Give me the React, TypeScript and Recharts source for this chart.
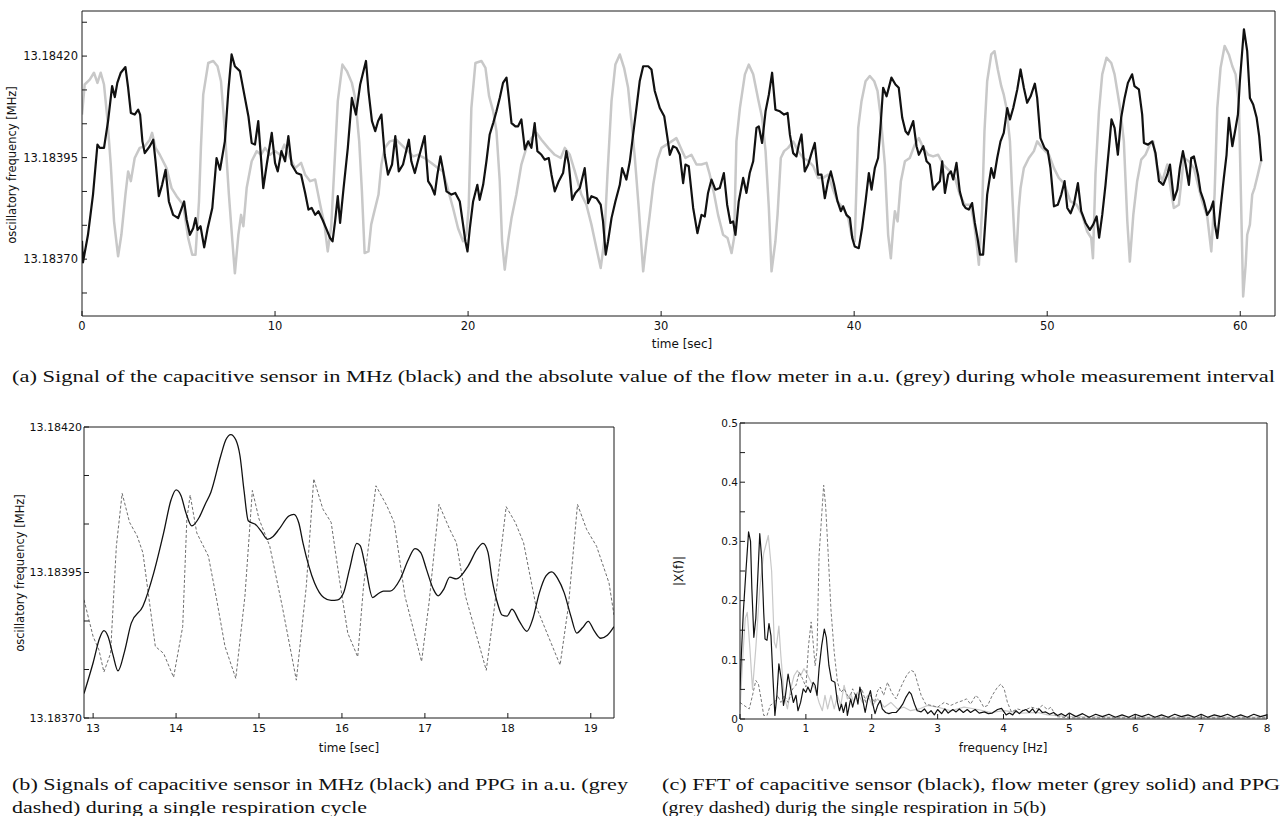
import React from 'react';
import { LineChart, Line, XAxis, YAxis } from 'recharts';

// Frequencies are stored as offset in Hz above 13.18370 MHz
const BASE_MHZ = 13.1837;

// ---------- (a) whole measurement interval ----------
const capacitiveFull: [number, number][] = [
  [0,45],[0.05,-8],[0.31,60],[0.57,159],[0.80,282],[0.92,274],[1.14,274],[1.35,340],[1.56,426],[1.70,399],[1.83,434],[2.01,459],[2.25,473],[2.39,422],[2.53,360],[2.73,356],[2.91,368],[3.01,356],[3.13,290],[3.25,261],[3.51,278],[3.69,294],[3.81,241],[3.98,155],[4.15,183],[4.33,220],[4.50,142],[4.72,109],[4.98,101],[5.29,142],[5.42,97],[5.59,60],[5.76,76],[5.88,101],[5.99,72],[6.14,81],[6.33,29],[6.51,76],[6.75,126],[6.97,249],[7.15,220],[7.40,290],[7.58,414],[7.75,504],[7.92,475],[8.18,463],[8.44,397],[8.62,352],[8.79,286],[8.96,282],[9.13,340],[9.22,282],[9.39,175],[9.57,233],[9.83,311],[10.0,237],[10.14,216],[10.33,266],[10.52,241],[10.69,303],[10.86,233],[11.12,212],[11.35,208],[11.56,163],[11.73,122],[11.90,126],[12.08,109],[12.25,118],[12.46,97],[12.68,72],[12.85,52],[12.98,44],[13.11,93],[13.25,155],[13.37,89],[13.55,175],[13.77,274],[13.98,397],[14.19,356],[14.41,430],[14.71,488],[14.84,414],[15.02,340],[15.19,315],[15.34,340],[15.51,356],[15.68,257],[15.85,208],[16.06,233],[16.23,303],[16.41,216],[16.63,233],[16.93,294],[17.06,241],[17.24,212],[17.44,249],[17.75,303],[17.93,192],[18.10,179],[18.27,159],[18.41,208],[18.57,253],[18.70,220],[18.88,167],[19.14,159],[19.34,163],[19.57,142],[19.74,85],[19.86,44],[19.97,19],[20.09,76],[20.26,142],[20.48,183],[20.60,146],[20.78,183],[20.95,241],[21.12,307],[21.30,335],[21.47,364],[21.64,397],[21.81,434],[21.99,447],[22.11,397],[22.25,335],[22.45,327],[22.59,327],[22.76,344],[22.94,270],[23.11,290],[23.28,274],[23.45,335],[23.59,266],[23.80,257],[23.97,245],[24.18,249],[24.32,208],[24.49,167],[24.70,192],[24.92,212],[25.09,266],[25.22,233],[25.39,146],[25.56,163],[25.79,175],[26.04,224],[26.22,138],[26.39,155],[26.65,150],[26.87,134],[26.99,93],[27.13,11],[27.25,44],[27.43,101],[27.63,142],[27.86,183],[27.98,224],[28.20,196],[28.38,241],[28.55,307],[28.72,372],[28.89,438],[29.07,475],[29.33,475],[29.50,467],[29.67,414],[29.93,372],[30.16,352],[30.33,298],[30.45,257],[30.62,278],[30.79,274],[30.97,257],[31.14,187],[31.26,233],[31.43,229],[31.66,126],[31.88,64],[32.09,109],[32.26,105],[32.43,163],[32.61,196],[32.81,171],[33.04,175],[33.25,212],[33.42,134],[33.59,89],[33.73,93],[33.85,60],[34.02,142],[34.25,200],[34.42,163],[34.59,212],[34.77,241],[34.94,323],[35.06,327],[35.23,286],[35.41,364],[35.58,405],[35.75,459],[35.92,368],[36.15,364],[36.37,356],[36.55,360],[36.67,307],[36.84,261],[37.01,253],[37.13,282],[37.27,307],[37.44,216],[37.62,233],[37.79,261],[37.96,286],[38.13,208],[38.31,208],[38.48,150],[38.65,192],[38.79,216],[38.96,183],[39.14,142],[39.31,118],[39.43,130],[39.60,109],[39.78,101],[39.90,52],[40.03,31],[40.24,27],[40.41,76],[40.59,142],[40.76,212],[40.90,171],[41.07,224],[41.24,249],[41.36,323],[41.50,422],[41.68,401],[41.93,447],[42.14,430],[42.31,422],[42.49,348],[42.66,315],[42.80,307],[43.06,340],[43.23,278],[43.35,257],[43.58,278],[43.75,241],[43.92,233],[44.09,171],[44.27,183],[44.44,192],[44.56,241],[44.70,163],[44.87,208],[45.01,216],[45.13,196],[45.30,237],[45.47,167],[45.65,134],[45.77,126],[45.94,122],[46.11,138],[46.25,89],[46.39,52],[46.52,11],[46.68,11],[46.89,159],[47.10,224],[47.24,200],[47.41,249],[47.58,290],[47.75,311],[47.93,372],[48.07,344],[48.24,372],[48.45,418],[48.62,467],[48.79,422],[48.96,385],[49.14,401],[49.36,432],[49.48,397],[49.65,298],[49.86,274],[50.03,266],[50.17,224],[50.35,130],[50.55,134],[50.73,159],[50.90,192],[51.04,126],[51.21,113],[51.38,134],[51.59,187],[51.76,118],[51.99,89],[52.21,72],[52.38,85],[52.56,105],[52.69,53],[52.85,109],[53.02,183],[53.20,274],[53.33,344],[53.49,323],[53.66,257],[53.83,348],[54.01,397],[54.18,434],[54.40,455],[54.52,426],[54.75,418],[54.92,356],[55.01,286],[55.22,282],[55.44,290],[55.61,261],[55.79,192],[56.01,183],[56.22,208],[56.36,233],[56.56,146],[56.74,171],[56.87,224],[57.03,266],[57.17,233],[57.34,183],[57.46,249],[57.60,253],[57.81,208],[57.94,167],[58.12,142],[58.29,109],[58.46,122],[58.60,142],[58.69,85],[58.81,52],[58.98,126],[59.15,200],[59.29,257],[59.41,348],[59.59,278],[59.76,323],[59.88,356],[59.98,438],[60.19,566],[60.36,512],[60.50,397],[60.67,381],[60.85,348],[60.98,303],[61.09,241],
];

const flowFull: [number, number][] = [
  [0,356],[0.14,430],[0.40,442],[0.62,459],[0.80,434],[0.97,459],[1.14,430],[1.31,348],[1.49,233],[1.66,93],[1.87,7],[2.04,60],[2.25,159],[2.39,216],[2.53,192],[2.73,249],[2.99,274],[3.25,278],[3.51,294],[3.63,311],[3.81,274],[4.03,257],[4.38,224],[4.64,175],[4.90,155],[5.24,134],[5.50,52],[5.71,11],[5.88,11],[6.06,142],[6.16,274],[6.28,405],[6.54,483],[6.80,488],[7.02,475],[7.20,438],[7.40,315],[7.61,159],[7.79,44],[7.92,-35],[8.10,60],[8.24,109],[8.36,81],[8.53,175],[8.79,241],[9.05,266],[9.27,257],[9.48,274],[9.74,257],[10.0,266],[10.26,257],[10.48,282],[10.78,249],[11.04,224],[11.35,237],[11.56,208],[11.82,192],[12.08,196],[12.34,134],[12.56,85],[12.73,19],[12.91,81],[13.08,233],[13.25,389],[13.49,479],[13.72,463],[13.98,434],[14.15,397],[14.36,290],[14.50,167],[14.64,15],[14.84,19],[14.98,85],[15.10,109],[15.36,159],[15.51,233],[15.68,274],[15.94,290],[16.28,294],[16.54,282],[16.89,266],[17.15,253],[17.41,257],[17.75,249],[18.10,237],[18.45,224],[18.70,216],[18.96,171],[19.22,126],[19.48,76],[19.74,44],[19.91,60],[20.03,126],[20.17,372],[20.38,483],[20.69,488],[20.90,471],[21.09,401],[21.30,364],[21.47,315],[21.64,192],[21.76,44],[21.90,-26],[22.07,44],[22.25,101],[22.50,159],[22.76,233],[23.02,274],[23.28,298],[23.54,311],[23.80,294],[24.15,274],[24.49,257],[24.80,249],[25.01,274],[25.27,257],[25.53,216],[25.87,159],[26.13,134],[26.39,85],[26.65,27],[26.87,-22],[27.05,44],[27.22,208],[27.43,389],[27.63,479],[27.86,504],[28.08,471],[28.29,422],[28.46,340],[28.64,249],[28.84,126],[29.07,-30],[29.24,44],[29.41,109],[29.59,183],[29.81,245],[30.02,274],[30.28,282],[30.54,290],[30.79,298],[31.09,266],[31.26,249],[31.57,257],[31.83,233],[32.09,233],[32.35,237],[32.52,208],[32.75,159],[32.95,109],[33.21,60],[33.44,52],[33.65,15],[33.78,52],[33.90,290],[34.08,372],[34.34,455],[34.54,479],[34.77,455],[35.03,393],[35.23,348],[35.41,266],[35.58,126],[35.72,-30],[35.92,44],[36.03,109],[36.20,249],[36.37,266],[36.58,274],[36.84,290],[37.10,266],[37.36,249],[37.65,241],[37.88,229],[38.13,200],[38.39,200],[38.65,208],[38.91,171],[39.14,142],[39.43,126],[39.69,101],[39.86,60],[40.03,44],[40.21,323],[40.38,389],[40.59,438],[40.81,451],[41.04,438],[41.21,414],[41.38,348],[41.59,233],[41.76,60],[41.90,2],[42.02,76],[42.11,118],[42.25,93],[42.42,192],[42.63,241],[42.88,249],[43.14,282],[43.35,298],[43.58,274],[43.84,257],[44.09,253],[44.35,257],[44.61,233],[44.96,216],[45.22,200],[45.47,159],[45.73,134],[46.03,134],[46.20,93],[46.37,27],[46.46,-14],[46.63,126],[46.75,315],[46.89,438],[47.10,504],[47.27,512],[47.44,467],[47.62,426],[47.75,405],[47.89,372],[48.07,290],[48.19,159],[48.31,44],[48.39,-6],[48.53,126],[48.62,175],[48.79,224],[49.05,249],[49.31,266],[49.48,290],[49.74,274],[50.09,257],[50.35,224],[50.60,200],[50.86,187],[51.21,142],[51.52,134],[51.81,109],[52.07,68],[52.28,52],[52.37,2],[52.50,208],[52.68,364],[52.85,455],[53.07,496],[53.32,483],[53.49,455],[53.63,414],[53.80,364],[53.97,290],[54.15,93],[54.28,-6],[54.46,109],[54.66,192],[54.87,245],[55.09,257],[55.32,282],[55.49,290],[55.70,224],[55.96,192],[56.22,233],[56.39,175],[56.56,126],[56.82,134],[57.08,249],[57.34,241],[57.60,224],[57.81,183],[58.03,142],[58.29,105],[58.50,19],[58.67,159],[58.81,372],[58.98,471],[59.19,525],[59.41,504],[59.59,475],[59.76,455],[59.93,381],[60.05,126],[60.15,-92],[60.28,-14],[60.36,60],[60.50,85],[60.62,159],[60.74,175],[60.91,208],[61.09,245],
];

const fullTimeTicks = [0, 10, 20, 30, 40, 50, 60];
const fullHzTicks = [-83.333, 0, 83.333, 166.667, 250, 333.333, 416.667, 500, 583.333];

// ---------- (b) single respiration cycle ----------
const capacitiveCycle: [number, number][] = [
  [12.89,42],[13.0,95],[13.08,138],[13.13,150],[13.18,140],[13.24,108],[13.30,81],[13.38,115],[13.46,163],[13.60,192],[13.73,249],[13.85,318],[13.94,375],[14.0,392],[14.06,382],[14.12,352],[14.19,330],[14.28,345],[14.35,367],[14.42,388],[14.54,451],[14.60,478],[14.66,487],[14.72,478],[14.77,451],[14.82,390],[14.87,339],[14.97,331],[15.04,318],[15.10,307],[15.17,312],[15.24,324],[15.36,347],[15.42,350],[15.48,335],[15.53,301],[15.67,232],[15.78,207],[15.87,202],[15.95,203],[16.02,215],[16.09,255],[16.18,300],[16.22,296],[16.28,262],[16.37,207],[16.44,214],[16.50,218],[16.58,218],[16.70,238],[16.80,272],[16.88,291],[16.95,284],[17.02,255],[17.10,222],[17.16,210],[17.23,222],[17.30,242],[17.38,239],[17.52,261],[17.63,290],[17.70,300],[17.76,285],[17.81,238],[17.88,195],[17.93,177],[17.99,175],[18.05,187],[18.14,166],[18.23,149],[18.30,170],[18.38,215],[18.46,244],[18.53,251],[18.60,240],[18.68,215],[18.76,175],[18.83,146],[18.90,155],[18.97,166],[19.04,150],[19.12,137],[19.20,142],[19.28,157],
];

const ppgCycle: [number, number][] = [
  [12.89,203],[13.0,140],[13.07,117],[13.13,79],[13.21,111],[13.28,295],[13.35,386],[13.44,336],[13.53,313],[13.60,284],[13.75,123],[13.85,111],[13.97,70],[14.08,157],[14.13,342],[14.17,383],[14.25,318],[14.39,278],[14.49,203],[14.59,123],[14.72,68],[14.83,209],[14.92,391],[15.00,342],[15.13,295],[15.28,192],[15.45,65],[15.57,226],[15.66,411],[15.77,359],[15.87,336],[15.97,238],[16.07,146],[16.19,105],[16.26,226],[16.41,399],[16.54,365],[16.63,336],[16.76,209],[16.96,97],[17.05,198],[17.17,367],[17.30,324],[17.38,301],[17.49,209],[17.74,82],[17.84,192],[17.98,363],[18.09,336],[18.19,301],[18.34,192],[18.63,91],[18.73,192],[18.84,367],[18.95,324],[19.07,295],[19.22,232],[19.28,177],
];

const cycleTimeTicks = [13, 14, 15, 16, 17, 18, 19];
const cycleHzTicks = [0, 83.333, 166.667, 250, 333.333, 416.667, 500];

// ---------- (c) FFT ----------
const capacitiveFFT: [number, number][] = [
  [0,0.05],[0.02,0.107],[0.05,0.18],[0.09,0.25],[0.13,0.316],[0.16,0.30],[0.18,0.22],[0.21,0.138],[0.24,0.17],[0.27,0.24],[0.30,0.313],[0.33,0.27],[0.36,0.18],[0.38,0.135],[0.41,0.133],[0.44,0.161],[0.47,0.141],[0.50,0.07],[0.53,0.006],[0.56,0.040],[0.59,0.093],[0.63,0.065],[0.66,0.023],[0.69,0.040],[0.73,0.076],[0.77,0.051],[0.81,0.028],[0.85,0.040],[0.88,0.014],[0.92,0.028],[0.96,0.051],[1.00,0.045],[1.03,0.054],[1.07,0.045],[1.11,0.062],[1.14,0.057],[1.17,0.040],[1.20,0.085],[1.24,0.124],[1.28,0.152],[1.31,0.138],[1.35,0.090],[1.39,0.065],[1.44,0.062],[1.48,0.028],[1.51,0.014],[1.54,0.025],[1.57,0.011],[1.61,0.028],[1.63,0.006],[1.68,0.034],[1.71,0.020],[1.76,0.042],[1.79,0.025],[1.82,0.054],[1.86,0.034],[1.90,0.011],[1.94,0.034],[1.98,0.048],[2.01,0.028],[2.05,0.009],[2.09,0.023],[2.13,0.031],[2.16,0.017],[2.21,0.011],[2.26,0.009],[2.31,0.011],[2.37,0.011],[2.42,0.017],[2.47,0.025],[2.52,0.037],[2.57,0.046],[2.60,0.042],[2.65,0.025],[2.69,0.014],[2.75,0.012],[2.80,0.017],[2.85,0.009],[2.90,0.014],[2.95,0.007],[3.00,0.016],[3.06,0.009],[3.11,0.017],[3.16,0.010],[3.23,0.016],[3.28,0.012],[3.33,0.017],[3.39,0.011],[3.45,0.016],[3.50,0.011],[3.57,0.016],[3.63,0.010],[3.71,0.012],[3.77,0.009],[3.83,0.010],[3.91,0.016],[3.97,0.018],[4.04,0.007],[4.09,0.010],[4.14,0.007],[4.19,0.014],[4.24,0.009],[4.29,0.014],[4.34,0.016],[4.39,0.011],[4.44,0.017],[4.49,0.010],[4.54,0.017],[4.59,0.011],[4.64,0.012],[4.70,0.008],[4.76,0.011],[4.82,0.006],[4.88,0.009],[4.94,0.005],[5.00,0.010],[5.10,0.004],[5.20,0.009],[5.30,0.003],[5.40,0.008],[5.50,0.004],[5.60,0.008],[5.70,0.003],[5.80,0.007],[5.90,0.003],[6.00,0.008],[6.10,0.004],[6.20,0.008],[6.30,0.003],[6.40,0.007],[6.50,0.003],[6.60,0.008],[6.70,0.004],[6.80,0.007],[6.90,0.003],[7.00,0.008],[7.10,0.003],[7.20,0.007],[7.30,0.004],[7.40,0.008],[7.50,0.003],[7.60,0.007],[7.70,0.003],[7.80,0.008],[7.90,0.004],[8.00,0.007],
];

const flowFFT: [number, number][] = [
  [0,0.015],[0.04,0.10],[0.08,0.17],[0.11,0.18],[0.15,0.12],[0.19,0.05],[0.24,0.12],[0.30,0.22],[0.36,0.28],[0.43,0.31],[0.48,0.25],[0.52,0.13],[0.55,0.12],[0.59,0.157],[0.62,0.107],[0.67,0.040],[0.72,0.017],[0.77,0.051],[0.82,0.073],[0.87,0.082],[0.92,0.073],[0.97,0.085],[1.02,0.076],[1.08,0.062],[1.14,0.051],[1.20,0.028],[1.25,0.014],[1.29,0.040],[1.33,0.017],[1.38,0.040],[1.43,0.017],[1.48,0.040],[1.53,0.023],[1.58,0.057],[1.63,0.034],[1.68,0.042],[1.73,0.028],[1.78,0.045],[1.86,0.028],[1.94,0.040],[2.01,0.023],[2.09,0.034],[2.19,0.020],[2.29,0.028],[2.39,0.017],[2.49,0.020],[2.59,0.014],[2.72,0.017],[2.85,0.023],[3.00,0.020],[3.20,0.014],[3.40,0.020],[3.61,0.016],[3.81,0.011],[4.01,0.014],[4.26,0.010],[4.52,0.011],[4.67,0.007],[5.0,0.004],[6.0,0.003],[7.0,0.003],[8.0,0.003],
];

const ppgFFT: [number, number][] = [
  [0,0.028],[0.06,0.023],[0.14,0.017],[0.19,0.040],[0.24,0.065],[0.28,0.059],[0.32,0.034],[0.36,0.006],[0.41,0.006],[0.46,0.023],[0.52,0.028],[0.57,0.040],[0.62,0.028],[0.67,0.040],[0.73,0.028],[0.80,0.051],[0.85,0.057],[0.90,0.079],[0.95,0.068],[1.00,0.054],[1.04,0.124],[1.08,0.164],[1.11,0.130],[1.14,0.090],[1.17,0.118],[1.20,0.276],[1.27,0.395],[1.30,0.36],[1.34,0.276],[1.38,0.186],[1.43,0.113],[1.48,0.062],[1.53,0.045],[1.58,0.051],[1.66,0.034],[1.71,0.051],[1.77,0.034],[1.85,0.051],[1.91,0.028],[1.98,0.040],[2.04,0.028],[2.09,0.048],[2.13,0.054],[2.18,0.040],[2.24,0.062],[2.30,0.045],[2.37,0.034],[2.43,0.051],[2.49,0.065],[2.54,0.076],[2.60,0.082],[2.65,0.079],[2.70,0.059],[2.75,0.040],[2.82,0.025],[2.90,0.023],[3.00,0.020],[3.10,0.028],[3.20,0.023],[3.30,0.028],[3.38,0.031],[3.44,0.034],[3.50,0.025],[3.58,0.040],[3.63,0.034],[3.70,0.020],[3.76,0.023],[3.83,0.040],[3.91,0.054],[3.96,0.059],[4.01,0.051],[4.06,0.028],[4.12,0.012],[4.21,0.017],[4.31,0.014],[4.42,0.020],[4.52,0.017],[4.59,0.023],[4.67,0.016],[4.72,0.020],[4.80,0.004],[5.0,0.002],[6.0,0.002],[7.0,0.002],[8.0,0.002],
];

const freqTicks = [0, 1, 2, 3, 4, 5, 6, 7, 8];
const magTicks = [0, 0.05, 0.1, 0.15, 0.2, 0.25, 0.3, 0.35, 0.4, 0.45, 0.5];

// ---------- helpers ----------
const toPts = (arr: [number, number][]) => arr.map(([t, v]) => ({ t, v }));

const fmtMHz = (v: number) =>
  Math.abs(v - Math.round(v / 250) * 250) < 0.5 ? (BASE_MHZ + v / 1e6).toFixed(5) : '';
const fmtMag = (v: number) => {
  const k = Math.round(v * 100);
  if (k % 10 !== 0) return '';
  return k === 0 ? '0' : (k / 100).toFixed(1);
};
const fmtInt = (v: number) => String(v);

const AX = '#1a1a1a';

type Series = { data: { t: number; v: number }[]; stroke: string; width: number; dash?: string; curve: 'linear' | 'monotone' };

function Panel(p: {
  left: number; top: number; width: number; height: number;
  margin: { top: number; right: number; bottom: number; left: number };
  xDomain: [number, number]; xTicks: number[]; xFmt: (v: number) => string;
  yDomain: [number, number]; yTicks: number[]; yFmt: (v: number) => string;
  yAxisW: number; xAxisH: number; fontSize: number; yTickMargin: number;
  series: Series[];
}) {
  const tickStyle = { fontSize: p.fontSize, fill: '#111', fontFamily: 'DejaVu Sans' };
  return (
    <div style={{ position: 'absolute', left: p.left, top: p.top }}>
      <LineChart width={p.width} height={p.height} margin={p.margin}>
        <XAxis xAxisId="b" dataKey="t" type="number" domain={p.xDomain} ticks={p.xTicks} interval={0}
          allowDataOverflow tickSize={-5} tickMargin={11} height={p.xAxisH} tick={tickStyle}
          tickFormatter={p.xFmt} axisLine={{ stroke: AX }} tickLine={{ stroke: AX }} />
        <XAxis xAxisId="t" orientation="top" dataKey="t" type="number" domain={p.xDomain} ticks={p.xTicks}
          interval={0} allowDataOverflow tickSize={-5} tick={false} height={1}
          axisLine={{ stroke: AX }} tickLine={{ stroke: AX }} />
        <YAxis yAxisId="l" type="number" domain={p.yDomain} ticks={p.yTicks} interval={0}
          allowDataOverflow tickSize={-5} tickMargin={p.yTickMargin} width={p.yAxisW} tick={tickStyle}
          tickFormatter={p.yFmt} axisLine={{ stroke: AX }} tickLine={{ stroke: AX }} />
        <YAxis yAxisId="r" orientation="right" type="number" domain={p.yDomain} ticks={p.yTicks}
          interval={0} allowDataOverflow tickSize={-5} tick={false} width={1}
          axisLine={{ stroke: AX }} tickLine={{ stroke: AX }} />
        {/* invisible copy bound to the top / right axes so that the frame axes are drawn */}
        <Line xAxisId="t" yAxisId="r" data={p.series[0].data} dataKey="v" stroke="none" strokeWidth={0}
          dot={false} activeDot={false} isAnimationActive={false} legendType="none" />
        {p.series.map((s, i) => (
          <Line key={i} xAxisId="b" yAxisId="l" data={s.data} dataKey="v" type={s.curve}
            stroke={s.stroke} strokeWidth={s.width} strokeDasharray={s.dash} dot={false}
            activeDot={false} isAnimationActive={false} strokeLinejoin="round" />
        ))}
      </LineChart>
    </div>
  );
}

const SERIF = 'Liberation Serif';
const sans = "'DejaVu Sans', sans-serif";

export default function App() {
  return (
    <div style={{ position: 'absolute', left: 0, top: 0, width: 1280, height: 816, background: '#fff', overflow: 'hidden' }}>
      <Panel left={0} top={0} width={1280} height={360}
        margin={{ top: 10, right: 4, bottom: 0, left: 0 }}
        xDomain={[0, 61.8]} xTicks={fullTimeTicks} xFmt={fmtInt}
        yDomain={[-140, 611]} yTicks={fullHzTicks} yFmt={fmtMHz}
        yAxisW={82} xAxisH={44} fontSize={11.5} yTickMargin={9}
        series={[
          { data: toPts(flowFull), stroke: '#c8c8c8', width: 2.5, curve: 'linear' },
          { data: toPts(capacitiveFull), stroke: '#111', width: 2.2, curve: 'linear' },
        ]} />
      <Panel left={0} top={400} width={640} height={360}
        margin={{ top: 26, right: 25, bottom: 0, left: 0 }}
        xDomain={[12.89, 19.28]} xTicks={cycleTimeTicks} xFmt={fmtInt}
        yDomain={[0, 500]} yTicks={cycleHzTicks} yFmt={fmtMHz}
        yAxisW={84} xAxisH={42} fontSize={11} yTickMargin={7}
        series={[
          { data: toPts(ppgCycle), stroke: '#6e6e6e', width: 1, dash: '3 2', curve: 'linear' },
          { data: toPts(capacitiveCycle), stroke: '#111', width: 1.3, curve: 'monotone' },
        ]} />
      <Panel left={640} top={400} width={640} height={360}
        margin={{ top: 22, right: 12, bottom: 0, left: 0 }}
        xDomain={[0, 8]} xTicks={freqTicks} xFmt={fmtInt}
        yDomain={[0, 0.5]} yTicks={magTicks} yFmt={fmtMag}
        yAxisW={100} xAxisH={41} fontSize={10.5} yTickMargin={7}
        series={[
          { data: toPts(flowFFT), stroke: '#c8c8c8', width: 1.2, curve: 'linear' },
          { data: toPts(ppgFFT), stroke: '#7a7a7a', width: 1, dash: '3 2', curve: 'linear' },
          { data: toPts(capacitiveFFT), stroke: '#111', width: 1.2, curve: 'linear' },
        ]} />
      <svg width={1280} height={816} style={{ position: 'absolute', left: 0, top: 0, pointerEvents: 'none' }}>
        <g fill="#111" style={{ fontFamily: sans, fontSize: 12 }}>
          <text x={682} y={348} textAnchor="middle">time [sec]</text>
          <text transform="translate(12,165) rotate(-90)" textAnchor="middle" dominantBaseline="central" style={{ fontSize: 11.5 }}>oscillatory frequency [MHz]</text>
          <text x={349} y={752} textAnchor="middle">time [sec]</text>
          <text transform="translate(20,573) rotate(-90)" textAnchor="middle" dominantBaseline="central" style={{ fontSize: 11.5 }}>oscillatory frequency [MHz]</text>
          <text x={1003} y={752} textAnchor="middle">frequency [Hz]</text>
          <text transform="translate(679,571) rotate(-90)" textAnchor="middle" dominantBaseline="central">|X(f)|</text>
        </g>
        <g fill="#111">
          <text x={12} y={382} fontFamily={SERIF} fontSize={16} textLength={1263} lengthAdjust="spacingAndGlyphs">(a)  Signal of the capacitive sensor in MHz (black) and the absolute value of the flow meter in a.u. (grey) during whole measurement interval</text>
          <text x={12} y={790} fontFamily={SERIF} fontSize={16} textLength={616} lengthAdjust="spacingAndGlyphs">(b)  Signals of capacitive sensor in MHz (black) and PPG in a.u. (grey</text>
          <text x={12} y={813} fontFamily={SERIF} fontSize={16} textLength={355} lengthAdjust="spacingAndGlyphs">dashed) during a single respiration cycle</text>
          <text x={662} y={790} fontFamily={SERIF} fontSize={16} textLength={618} lengthAdjust="spacingAndGlyphs">(c)  FFT of capacitive sensor (black), flow meter (grey solid) and PPG</text>
          <text x={662} y={813} fontFamily={SERIF} fontSize={16} textLength={384} lengthAdjust="spacingAndGlyphs">(grey dashed) durig the single respiration in 5(b)</text>
        </g>
      </svg>
    </div>
  );
}
